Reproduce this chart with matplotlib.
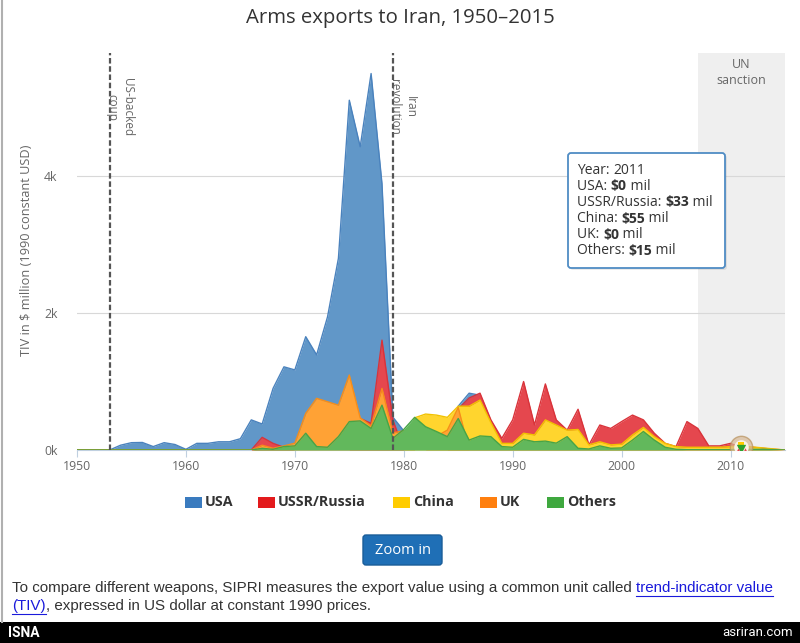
import matplotlib
matplotlib.use("Agg")
import matplotlib.pyplot as plt
from matplotlib.patches import FancyBboxPatch, Rectangle
import numpy as np

# ---------------------------------------------------------------------------
# Data (TIV, $ million, 1990 constant USD), years 1950-2015
# ---------------------------------------------------------------------------
years = np.arange(1950, 2016)

usa = [0, 0, 0, 0, 70, 107, 110, 50, 107, 80,
       10, 97, 97, 120, 120, 165, 440, 380, 900, 1215,
       1170, 1655, 1390, 1945, 2800, 5110, 4430, 5500, 3890, 480,
       280, 0, 0, 0, 0, 640, 830, 800, 0, 0,
       0, 0, 0, 0, 0, 0, 0, 0, 0, 0,
       0, 0, 0, 0, 0, 0, 0, 0, 0, 0,
       0, 0, 0, 0, 0, 0]

ussr = [0, 0, 0, 0, 0, 0, 0, 0, 0, 0,
        0, 0, 0, 0, 0, 0, 0, 185, 97, 40,
        0, 0, 0, 0, 0, 0, 460, 390, 1605, 440,
        0, 0, 0, 0, 0, 600, 760, 830, 440, 170,
        440, 1000, 365, 965, 440, 290, 595, 75, 365, 315,
        415, 510, 440, 245, 97, 50, 415, 315, 60, 60,
        97, 33, 40, 25, 10, 0]

china = [0, 0, 0, 0, 0, 0, 0, 0, 0, 0,
         0, 0, 0, 0, 0, 0, 0, 0, 0, 0,
         0, 0, 0, 0, 0, 0, 0, 0, 0, 0,
         0, 470, 525, 510, 477, 640, 640, 730, 400, 97,
         97, 245, 220, 440, 365, 290, 300, 75, 120, 75,
         85, 220, 330, 195, 97, 50, 40, 40, 40, 40,
         50, 55, 45, 30, 15, 0]

uk = [0, 0, 0, 0, 0, 0, 0, 0, 0, 0,
      0, 0, 0, 0, 0, 0, 0, 70, 25, 60,
      100, 535, 755, 705, 655, 1095, 470, 350, 900, 250,
      280, 0, 0, 200, 290, 620, 0, 0, 0, 0,
      0, 0, 0, 0, 0, 0, 0, 0, 0, 0,
      0, 0, 0, 0, 0, 0, 0, 0, 0, 0,
      0, 0, 0, 0, 0, 0]

others = [0, 0, 0, 0, 0, 0, 0, 0, 0, 0,
          0, 0, 0, 0, 0, 0, 0, 25, 10, 50,
          60, 245, 50, 40, 195, 415, 425, 315, 655, 170,
          300, 477, 340, 270, 195, 460, 145, 205, 195, 50,
          40, 155, 120, 130, 100, 195, 25, 15, 60, 25,
          30, 145, 270, 145, 40, 10, 5, 5, 5, 5,
          5, 15, 10, 10, 5, 0]

series_names = ["USA", "USSR/Russia", "China", "UK", "Others"]
series_data = [usa, ussr, china, uk, others]
fill_colors = ["#6197c8", "#e5474e", "#ffd52e", "#ffa235", "#62b85c"]
line_colors = ["#4a82bd", "#d9333a", "#f2c200", "#f58d1a", "#47a447"]
legend_colors = ["#3a7bbf", "#e31a1c", "#ffcc00", "#ff7f0e", "#3fa83f"]

events = [1953, 1979]
event_labels = ["US-backed\ncoup", "Iran\nrevolution"]
sanction_start, sanction_end = 2007, 2015

hover_year = 2011
tooltip_rows = [("Year: ", "", "2011"),
                ("USA: ", "$0", " mil"),
                ("USSR/Russia: ", "$33", " mil"),
                ("China: ", "$55", " mil"),
                ("UK: ", "$0", " mil"),
                ("Others: ", "$15", " mil")]

W, H = 800, 643
FONT = "Open Sans"
NOTE_FONT = "Liberation Sans"


def fx(px):
    return px / W


def fy(py):
    return 1 - py / H


# ---------------------------------------------------------------------------
# Figure
# ---------------------------------------------------------------------------
fig = plt.figure(figsize=(W / 100, H / 100), dpi=100)
fig.patch.set_facecolor("white")

ax = fig.add_axes([fx(77), fy(450), fx(785) - fx(77), fy(53) - fy(450)])
ax.set_xlim(1950, 2015)
ax.set_ylim(0, 5800)

# UN sanction band
ax.axvspan(sanction_start, sanction_end, color="#efefef", zorder=0, lw=0)
ax.text((sanction_start + sanction_end) / 2, 5720, "UN\nsanction", ha="center", va="top",
        color="#666666", fontsize=9, family=FONT, linespacing=1.3, zorder=1)

# grid
for v in [2000, 4000]:
    ax.axhline(v, color="#d8d8d8", lw=0.8, zorder=1)

# overlapping areas, later series on top
for i, (name, vals) in enumerate(zip(series_names, series_data)):
    vals = np.array(vals, dtype=float)
    ax.fill_between(years, 0, vals, color=fill_colors[i], lw=0, zorder=2 + i)
    ax.plot(years, vals, color=line_colors[i], lw=1.0, zorder=2 + i)

# event lines
for yr, lab in zip(events, event_labels):
    ax.axvline(yr, color="#555555", lw=1.6, ls=(0, (2.5, 1.2)), zorder=10)
    ax.text(yr + 0.9, 5010, lab, rotation=-90, ha="center", va="center",
            rotation_mode="anchor", color="#666666", fontsize=8.5, family=FONT,
            multialignment="center", linespacing=1.25, zorder=11)

# hover marker at 2011
ax.scatter([hover_year], [40], s=260, color="#d7b894", alpha=0.7, edgecolor="#b8925e",
           lw=1.0, zorder=12)
ax.scatter([hover_year], [40], s=110, color="#fbf3e6", lw=0, zorder=13)
ax.scatter([hover_year], [75], s=22, marker="s", color="#ffcc00", lw=0, zorder=14)
ax.scatter([hover_year], [20], s=45, marker="v", color="#2ea02e", lw=0, zorder=15)
ax.scatter([hover_year - 0.35, hover_year + 0.35], [-5, -5], s=10, marker="^",
           color="#e5474e", lw=0, zorder=15)

# axes styling
for s in ["top", "right", "left"]:
    ax.spines[s].set_visible(False)
ax.spines["bottom"].set_color("#c0d0e0")
ax.set_yticks([0, 2000, 4000])
ax.set_yticklabels(["0k", "2k", "4k"])
ax.set_xticks(range(1950, 2011, 10))
ax.tick_params(axis="y", length=0, pad=14, labelcolor="#666666", labelsize=8.8)
ax.tick_params(axis="x", length=5, color="#c0d0e0", pad=2, labelcolor="#666666", labelsize=8.8)
for lab in ax.get_xticklabels() + ax.get_yticklabels():
    lab.set_family(FONT)

fig.text(fx(27), fy(250), "TIV in $ million (1990 constant USD)", rotation=90,
         ha="center", va="center", color="#666666", fontsize=9.2, family=FONT,
         parse_math=False)

# title
fig.text(0.5, fy(18), "Arms exports to Iran, 1950\u20132015", ha="center", va="center",
         color="#333333", fontsize=14.7, family=FONT)

renderer = fig.canvas.get_renderer()


def run_text(x_px, y_px, pieces, size, family=FONT, zorder=30):
    """Draw consecutive text pieces (text, weight, colour) starting at x_px."""
    x = x_px
    out = []
    for txt, weight, color in pieces:
        if not txt:
            continue
        t = fig.text(fx(x), fy(y_px), txt, ha="left", va="center", fontsize=size,
                     family=family, weight=weight, color=color, parse_math=False,
                     zorder=zorder)
        bb = t.get_window_extent(renderer)
        out.append((x, x + bb.width))
        x += bb.width
    return out


# tooltip
tip = FancyBboxPatch((568 / 100, (H - 268) / 100), 157 / 100, 115 / 100,
                     boxstyle="round,pad=0,rounding_size=0.03",
                     transform=fig.dpi_scale_trans, facecolor="white",
                     edgecolor="#4f8cc4", lw=1.3, zorder=20)
shadow = FancyBboxPatch((570 / 100, (H - 270) / 100), 157 / 100, 115 / 100,
                        boxstyle="round,pad=0,rounding_size=0.03",
                        transform=fig.dpi_scale_trans, facecolor="#000000",
                        alpha=0.08, lw=0, zorder=19)
fig.patches.extend([shadow, tip])
for k, (a, b, c) in enumerate(tooltip_rows):
    run_text(577, 170 + k * 16.2,
             [(a, "normal", "#333333"), (b, "bold", "#333333"), (c, "normal", "#333333")],
             10)

# legend
legend_x = [185, 258, 393, 480, 547]
for name, col, lx in zip(series_names, legend_colors, legend_x):
    fig.patches.append(Rectangle((lx / 100, (H - 508) / 100), 17 / 100, 11 / 100,
                                 transform=fig.dpi_scale_trans, facecolor=col,
                                 edgecolor="none"))
    fig.text(fx(lx + 20), fy(502), name, ha="left", va="center", fontsize=10.3,
             family=FONT, weight="bold", color="#333333")

# zoom button
fig.patches.append(FancyBboxPatch((363 / 100, (H - 565) / 100), 79 / 100, 30 / 100,
                                  boxstyle="round,pad=0,rounding_size=0.03",
                                  transform=fig.dpi_scale_trans, facecolor="#1f6fb6",
                                  edgecolor="#1a5d99", lw=1.0))
fig.text(fx(402.5), fy(550), "Zoom in", ha="center", va="center", color="white",
         fontsize=10.5, family=FONT)

# footnote: size chosen so the first line spans the same width as the reference
note_a = "To compare different weapons, SIPRI measures the export value using a common unit called "
note_link = "trend-indicator value"
probe = fig.text(0, 0, note_a + note_link, fontsize=10, family=NOTE_FONT)
note_size = 10 * (775 - 12) / probe.get_window_extent(renderer).width
probe.remove()

spans = run_text(12, 588, [(note_a, "normal", "#333333"), (note_link, "normal", "#1a1adb")],
                 note_size, family=NOTE_FONT, zorder=3)
lx0, lx1 = spans[1]
fig.lines.append(plt.Line2D([fx(lx0), fx(lx1)], [fy(596), fy(596)], color="#1a1adb",
                            lw=0.8, transform=fig.transFigure))
spans = run_text(12, 606, [("(TIV)", "normal", "#1a1adb"),
                           (", expressed in US dollar at constant 1990 prices.", "normal",
                            "#333333")], note_size, family=NOTE_FONT, zorder=3)
lx0, lx1 = spans[0]
fig.lines.append(plt.Line2D([fx(lx0), fx(lx1)], [fy(614), fy(614)], color="#1a1adb",
                            lw=0.8, transform=fig.transFigure))

# page border and bottom bar
fig.lines.append(plt.Line2D([fx(1.5), fx(1.5)], [fy(0), fy(622)], color="#b0b0b0",
                            lw=1.5, transform=fig.transFigure))
fig.patches.append(Rectangle((0, 0), 1, fy(622), transform=fig.transFigure,
                             facecolor="black", edgecolor="none"))
fig.text(fx(8), fy(633), "ISNA", ha="left", va="center", color="white", fontsize=10,
         weight="bold", family="Roboto")
fig.text(fx(793), fy(633), "asriran.com", ha="right", va="center", color="white",
         fontsize=9.5, family="Roboto")

fig.savefig("out.png", dpi=100)
